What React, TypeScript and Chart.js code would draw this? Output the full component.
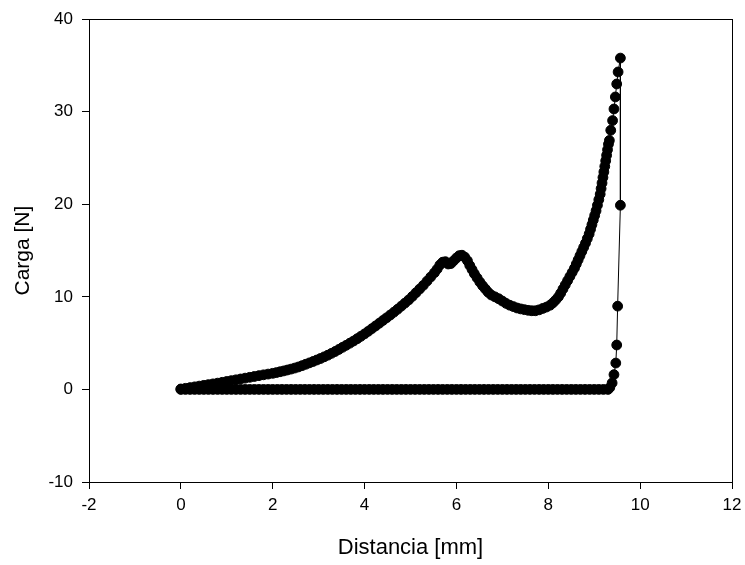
import React, { useEffect, useRef } from "react";
import { Chart, registerables } from "chart.js";

Chart.register(...registerables);

// Loading branch: Distancia [mm] / Carga [N]
const loadX = [
  0.0, 0.1, 0.2, 0.3, 0.4, 0.5, 0.6, 0.7, 0.8, 0.9, 1.0, 1.1, 1.2, 1.3, 1.4, 1.5, 1.6, 1.7, 1.8, 1.9, 2.0,
  2.08, 2.16, 2.24, 2.32, 2.4, 2.48, 2.56, 2.64, 2.72, 2.8, 2.88, 2.96, 3.04, 3.12, 3.2, 3.28, 3.36, 3.44,
  3.52, 3.6, 3.68, 3.76, 3.84, 3.92, 4.0, 4.08, 4.16, 4.24, 4.32, 4.4, 4.48, 4.56, 4.64, 4.72, 4.8, 4.88,
  4.96, 5.04, 5.12, 5.2, 5.28, 5.36, 5.44, 5.52, 5.58, 5.64, 5.7, 5.76, 5.82, 5.88, 5.94, 6.0, 6.06, 6.12,
  6.18, 6.24, 6.29, 6.34, 6.39, 6.45, 6.51, 6.57, 6.63, 6.69, 6.76, 6.84, 6.92, 7.0, 7.08, 7.16, 7.24, 7.32,
  7.4, 7.48, 7.56, 7.64, 7.72, 7.8, 7.88, 7.96, 8.04, 8.1, 8.16, 8.22, 8.27, 8.32, 8.37, 8.42, 8.47, 8.52,
  8.57, 8.61, 8.65, 8.69, 8.73, 8.77, 8.81, 8.85, 8.89, 8.92, 8.95, 8.98, 9.01, 9.04, 9.07, 9.1, 9.13, 9.15,
  9.17, 9.19, 9.21, 9.23, 9.25, 9.27, 9.29, 9.31, 9.33, 9.36, 9.4, 9.43, 9.46, 9.49, 9.52, 9.57,
];
const loadY = [
  0.05, 0.12, 0.2, 0.28, 0.36, 0.44, 0.52, 0.6, 0.68, 0.77, 0.86, 0.95, 1.04, 1.13, 1.22, 1.31, 1.4, 1.49, 1.58, 1.66, 1.74,
  1.82, 1.91, 2.0, 2.1, 2.2, 2.31, 2.43, 2.57, 2.72, 2.87, 3.02, 3.18, 3.34, 3.52, 3.7, 3.9, 4.1, 4.32,
  4.55, 4.77, 5.0, 5.23, 5.48, 5.74, 6.0, 6.28, 6.57, 6.86, 7.15, 7.45, 7.74, 8.04, 8.35, 8.67, 9.0, 9.33,
  9.67, 10.05, 10.45, 10.85, 11.25, 11.7, 12.15, 12.6, 13.0, 13.45, 13.75, 13.8, 13.55, 13.6, 13.9, 14.2, 14.45, 14.5,
  14.3, 13.9, 13.4, 12.95, 12.5, 12.05, 11.6, 11.2, 10.85, 10.5, 10.2, 10.0, 9.8, 9.55, 9.3, 9.1, 8.95, 8.8,
  8.7, 8.62, 8.55, 8.5, 8.5, 8.6, 8.75, 8.9, 9.1, 9.35, 9.65, 10.0, 10.4, 10.85, 11.3, 11.75, 12.2, 12.65,
  13.1, 13.55, 14.0, 14.45, 14.9, 15.35, 15.8, 16.3, 16.8, 17.3, 17.8, 18.3, 18.8, 19.3, 19.9, 20.5, 21.1, 21.7,
  22.3, 22.9, 23.5, 24.1, 24.7, 25.3, 25.9, 26.5, 26.9, 28.0, 29.05, 30.3, 31.6, 33.0, 34.3, 35.8,
];

// Unloading drop after the peak
const dropX = [9.57, 9.51, 9.49, 9.47, 9.43, 9.39, 9.34];
const dropY = [19.9, 9.0, 4.8, 2.85, 1.6, 0.7, 0.2];

// Return at zero load
const returnX = [
  9.3, 9.2, 9.1, 9.0, 8.9, 8.8, 8.7, 8.6, 8.5, 8.4, 8.3, 8.2, 8.1, 8.0, 7.9, 7.8, 7.7, 7.6, 7.5, 7.4,
  7.3, 7.2, 7.1, 7.0, 6.9, 6.8, 6.7, 6.6, 6.5, 6.4, 6.3, 6.2, 6.1, 6.0, 5.9, 5.8, 5.7, 5.6, 5.5, 5.4,
  5.3, 5.2, 5.1, 5.0, 4.9, 4.8, 4.7, 4.6, 4.5, 4.4, 4.3, 4.2, 4.1, 4.0, 3.9, 3.8, 3.7, 3.6, 3.5, 3.4,
  3.3, 3.2, 3.1, 3.0, 2.9, 2.8, 2.7, 2.6, 2.5, 2.4, 2.3, 2.2, 2.1, 2.0, 1.9, 1.8, 1.7, 1.6, 1.5, 1.4,
  1.3, 1.2, 1.1, 1.0, 0.9, 0.8, 0.7, 0.6, 0.5, 0.4, 0.3, 0.2, 0.1, 0.0,
];
const returnY = [
  0, 0, 0, 0, 0, 0, 0, 0, 0, 0, 0, 0, 0, 0, 0, 0, 0, 0, 0, 0,
  0, 0, 0, 0, 0, 0, 0, 0, 0, 0, 0, 0, 0, 0, 0, 0, 0, 0, 0, 0,
  0, 0, 0, 0, 0, 0, 0, 0, 0, 0, 0, 0, 0, 0, 0, 0, 0, 0, 0, 0,
  0, 0, 0, 0, 0, 0, 0, 0, 0, 0, 0, 0, 0, 0, 0, 0, 0, 0, 0, 0,
  0, 0, 0, 0, 0, 0, 0, 0, 0, 0, 0, 0, 0, 0,
];

const xTitle = "Distancia [mm]";
const yTitle = "Carga [N]";
const xMin = -2, xMax = 12, xStep = 2;
const yMin = -10, yMax = 40, yStep = 10;

const FONT = "'Liberation Sans', Arial, sans-serif";

export default function App() {
  const ref = useRef<HTMLCanvasElement>(null);

  useEffect(() => {
    if (!ref.current) return;
    const xs = [...loadX, ...dropX, ...returnX];
    const ys = [...loadY, ...dropY, ...returnY];
    const data = xs.map((x, i) => ({ x, y: ys[i] }));

    const frame = {
      id: "frame",
      afterDraw(chart: any) {
        const { ctx, chartArea: a } = chart;
        ctx.save();
        ctx.strokeStyle = "#000";
        ctx.lineWidth = 1;
        ctx.strokeRect(Math.round(a.left) + 0.5, Math.round(a.top) + 0.5, Math.round(a.right - a.left), Math.round(a.bottom - a.top));
        ctx.restore();
      },
    };

    const chart = new Chart(ref.current, {
      type: "scatter",
      data: {
        datasets: [
          {
            data,
            showLine: true,
            borderColor: "#000",
            borderWidth: 1,
            tension: 0,
            pointRadius: 4.9,
            pointBorderWidth: 1,
            pointBackgroundColor: "#000",
            pointBorderColor: "#000",
          },
        ],
      },
      options: {
        responsive: false,
        animation: false,
        layout: { padding: { top: 19, right: 13, left: 0, bottom: 0 } },
        plugins: { legend: { display: false }, tooltip: { enabled: false } },
        scales: {
          x: {
            type: "linear",
            min: xMin,
            max: xMax,
            afterFit(scale: any) {
              scale.height = 83;
              scale.paddingRight = 0;
              scale.paddingLeft = 0;
            },
            ticks: {
              stepSize: xStep,
              autoSkip: false,
              color: "#000",
              padding: 6,
              font: { family: FONT, size: 17 },
            },
            grid: { drawOnChartArea: false, drawTicks: true, tickLength: 7, color: "#000" },
            border: { display: true, color: "#000", width: 1 },
            title: {
              display: true,
              text: xTitle,
              color: "#000",
              font: { family: FONT, size: 22 },
              padding: { top: 0, bottom: 4 },
            },
          },
          y: {
            type: "linear",
            min: yMin,
            max: yMax,
            afterFit(scale: any) {
              scale.width = 89;
            },
            ticks: {
              stepSize: yStep,
              autoSkip: false,
              color: "#000",
              padding: 9,
              font: { family: FONT, size: 17 },
            },
            grid: { drawOnChartArea: false, drawTicks: true, tickLength: 7, color: "#000" },
            border: { display: true, color: "#000", width: 1 },
            title: {
              display: true,
              text: yTitle,
              color: "#000",
              font: { family: FONT, size: 21 },
              padding: { top: 11, bottom: 0 },
            },
          },
        },
      },
      plugins: [frame],
    });
    return () => chart.destroy();
  }, []);

  return (
    <div style={{ position: "fixed", left: 0, top: 0, width: 745, height: 565, background: "#fff" }}>
      <canvas ref={ref} width={745} height={565} style={{ display: "block" }} />
    </div>
  );
}
